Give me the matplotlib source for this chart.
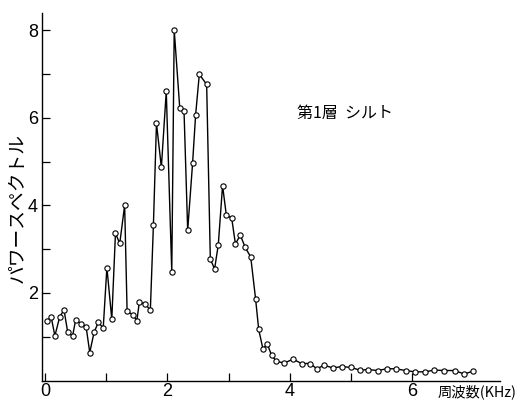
import matplotlib
matplotlib.use("Agg")
import matplotlib.pyplot as plt

plt.rcParams["font.family"] = ["Noto Sans CJK JP", "DejaVu Sans"]

# frequency (KHz) and power spectrum
freq = [0.03, 0.10, 0.16, 0.24, 0.31, 0.37, 0.45, 0.50, 0.585, 0.67,
        0.73, 0.80, 0.87, 0.95, 1.01, 1.09, 1.15, 1.22, 1.30, 1.34,
        1.43, 1.50, 1.54, 1.64, 1.72, 1.77, 1.82, 1.90, 1.98, 2.07,
        2.11, 2.20, 2.27, 2.33, 2.41, 2.46, 2.52, 2.64, 2.70, 2.77,
        2.83, 2.90, 2.96, 3.05, 3.11, 3.19, 3.27, 3.36, 3.44, 3.49,
        3.56, 3.63, 3.70, 3.78, 3.91, 4.05, 4.19, 4.33, 4.44, 4.56,
        4.70, 4.85, 5.00, 5.14, 5.28, 5.44, 5.58, 5.73, 5.89, 6.04,
        6.21, 6.36, 6.52, 6.69, 6.85, 7.00]
power = [1.35, 1.45, 1.02, 1.46, 1.61, 1.10, 1.02, 1.39, 1.30, 1.23,
         0.64, 1.10, 1.33, 1.20, 2.58, 1.40, 3.36, 3.13, 4.00, 1.59,
         1.50, 1.37, 1.79, 1.74, 1.61, 3.55, 5.87, 4.87, 6.60, 2.48,
         8.00, 6.23, 6.16, 3.43, 4.96, 6.07, 6.99, 6.76, 2.77, 2.55,
         3.10, 4.45, 3.79, 3.70, 3.12, 3.32, 3.04, 2.82, 1.86, 1.17,
         0.72, 0.84, 0.58, 0.44, 0.40, 0.49, 0.39, 0.39, 0.27, 0.35,
         0.29, 0.32, 0.30, 0.24, 0.25, 0.23, 0.27, 0.27, 0.23, 0.20,
         0.20, 0.24, 0.23, 0.23, 0.15, 0.22]

x_major = [0, 2, 4, 6]
x_minor = [1, 3, 5]
y_major = [2, 4, 6, 8]
y_minor = [1, 3, 5, 7]

fig = plt.figure(figsize=(5.22, 4.0), dpi=100)
ax = fig.add_axes([0.0805, 0.0485, 0.877, 0.919])

ax.plot(freq, power, color="black", lw=1.0, marker="o", ms=3.8,
        mfc="white", mec="black", mew=0.8)

ax.set_xlim(-0.05, 7.43)
ax.set_ylim(0, 8.39)
for s in ("top", "right"):
    ax.spines[s].set_visible(False)
for s in ("left", "bottom"):
    ax.spines[s].set_linewidth(1.0)

ax.set_xticks(x_major)
ax.set_xticks(x_minor, minor=True)
ax.set_yticks(y_major)
ax.set_yticks(y_minor, minor=True)
ax.tick_params(which="both", direction="in", length=6, width=0.9)
ax.tick_params(axis="x", pad=1.5)
ax.tick_params(axis="y", pad=3)
for lab in ax.get_xticklabels() + ax.get_yticklabels():
    lab.set_family(["Liberation Sans", "DejaVu Sans"])
    lab.set_fontsize(13)

fig.text(17 / 522, 1 - 208 / 400, "パワースペクトル", fontsize=13.5,
         rotation=90, ha="center", va="center")
fig.text(517 / 522, 1 - 392 / 400, "周波数(KHz)", fontsize=10.3,
         ha="right", va="center")
ax.text(4.12, 6.09, "第1層  シルト", fontsize=11.5, ha="left", va="center")

fig.savefig("out.png", dpi=100)
